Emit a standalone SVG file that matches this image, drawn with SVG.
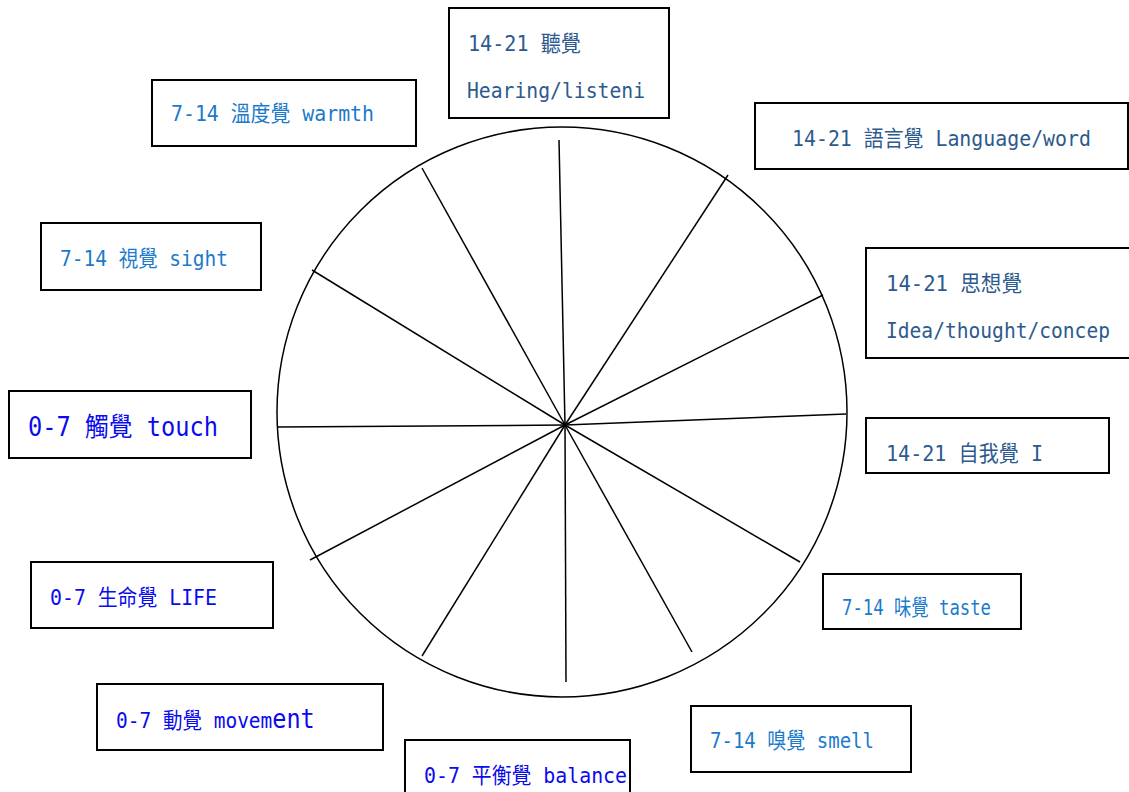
<svg xmlns="http://www.w3.org/2000/svg" width="1129" height="792" viewBox="0 0 1129 792">
<style>
.box{fill:#fff;stroke:#000;stroke-width:2}
.t{font-family:"DejaVu Sans Mono","Noto Sans CJK TC",monospace;font-size:19.5px}
.a{fill:#2c5a8e}
.b{fill:#1a7acb}
.c{fill:#0a0aee}
.ln{stroke:#000;stroke-width:1.5;fill:none}
</style>
<rect width="1129" height="792" fill="#fff"/>
<g id="wheel">
<circle cx="562" cy="412" r="285" class="ln"/>
</g>
<g id="connectors">
<line class="ln" x1="559" y1="140" x2="565" y2="425"/>
<line class="ln" x1="422" y1="168" x2="565" y2="425"/>
<line class="ln" x1="728" y1="175" x2="565" y2="425"/>
<line class="ln" x1="312" y1="270" x2="565" y2="425"/>
<line class="ln" x1="823" y1="295" x2="565" y2="425"/>
<line class="ln" x1="278" y1="427" x2="565" y2="425"/>
<line class="ln" x1="846" y1="414" x2="565" y2="425"/>
<line class="ln" x1="310" y1="560" x2="565" y2="425"/>
<line class="ln" x1="800" y1="562" x2="565" y2="425"/>
<line class="ln" x1="422" y1="656" x2="565" y2="425"/>
<line class="ln" x1="692" y1="652" x2="565" y2="425"/>
<line class="ln" x1="566" y1="682" x2="565" y2="425"/>
</g>
<g id="hearing">
<rect class="box" x="449" y="8" width="220" height="110"/>
<text class="t a" transform="translate(468,51) scale(1,1.13)" textLength="113" lengthAdjust="spacingAndGlyphs">14-21 聽覺</text>
<text class="t a" transform="translate(467,98) scale(1,1.13)" textLength="178" lengthAdjust="spacingAndGlyphs">Hearing/listeni</text>
</g>
<g id="warmth">
<rect class="box" x="152" y="80" width="264" height="66"/>
<text class="t b" transform="translate(171,121) scale(1,1.13)" textLength="203" lengthAdjust="spacingAndGlyphs">7-14 溫度覺 warmth</text>
</g>
<g id="language">
<rect class="box" x="755" y="103" width="373" height="66"/>
<text class="t a" transform="translate(792,146) scale(1,1.13)" textLength="299" lengthAdjust="spacingAndGlyphs">14-21 語言覺 Language/word</text>
</g>
<g id="idea">
<rect class="box" x="866" y="248" width="266" height="110"/>
<text class="t a" transform="translate(886,291) scale(1,1.13)" textLength="136" lengthAdjust="spacingAndGlyphs">14-21 思想覺</text>
<text class="t a" transform="translate(886,338) scale(1,1.13)" textLength="224" lengthAdjust="spacingAndGlyphs">Idea/thought/concep</text>
</g>
<g id="sight">
<rect class="box" x="41" y="223" width="220" height="67"/>
<text class="t b" transform="translate(60,266) scale(1,1.13)" textLength="168" lengthAdjust="spacingAndGlyphs">7-14 視覺 sight</text>
</g>
<g id="touch">
<rect class="box" x="9" y="391" width="242" height="67"/>
<text class="t c" transform="translate(28,436) scale(1,1.15)" style="font-size:22.5px" textLength="190" lengthAdjust="spacingAndGlyphs">0-7 觸覺 touch</text>
</g>
<g id="ego">
<rect class="box" x="866" y="418" width="243" height="55"/>
<text class="t a" transform="translate(886,461) scale(1,1.13)" textLength="157" lengthAdjust="spacingAndGlyphs">14-21 自我覺 I</text>
</g>
<g id="life">
<rect class="box" x="31" y="562" width="242" height="66"/>
<text class="t c" transform="translate(50,605) scale(1,1.13)" textLength="167" lengthAdjust="spacingAndGlyphs">0-7 生命覺 LIFE</text>
</g>
<g id="taste">
<rect class="box" x="823" y="574" width="198" height="55"/>
<text class="t b" transform="translate(842,615) scale(1,1.13)" textLength="149" lengthAdjust="spacingAndGlyphs">7-14 味覺 taste</text>
</g>
<g id="movement">
<rect class="box" x="97" y="684" width="286" height="66"/>
<text class="t c" transform="translate(116,728) scale(1,1.13)">0-7 動覺 movem<tspan style="font-size:23.5px">ent</tspan></text>
</g>
<g id="smell">
<rect class="box" x="691" y="706" width="220" height="66"/>
<text class="t b" transform="translate(710,748) scale(1,1.13)" textLength="164" lengthAdjust="spacingAndGlyphs">7-14 嗅覺 smell</text>
</g>
<g id="balance">
<rect class="box" x="405" y="740" width="225" height="60"/>
<text class="t c" transform="translate(424,783) scale(1,1.13)" textLength="203" lengthAdjust="spacingAndGlyphs">0-7 平衡覺 balance</text>
</g>
</svg>
